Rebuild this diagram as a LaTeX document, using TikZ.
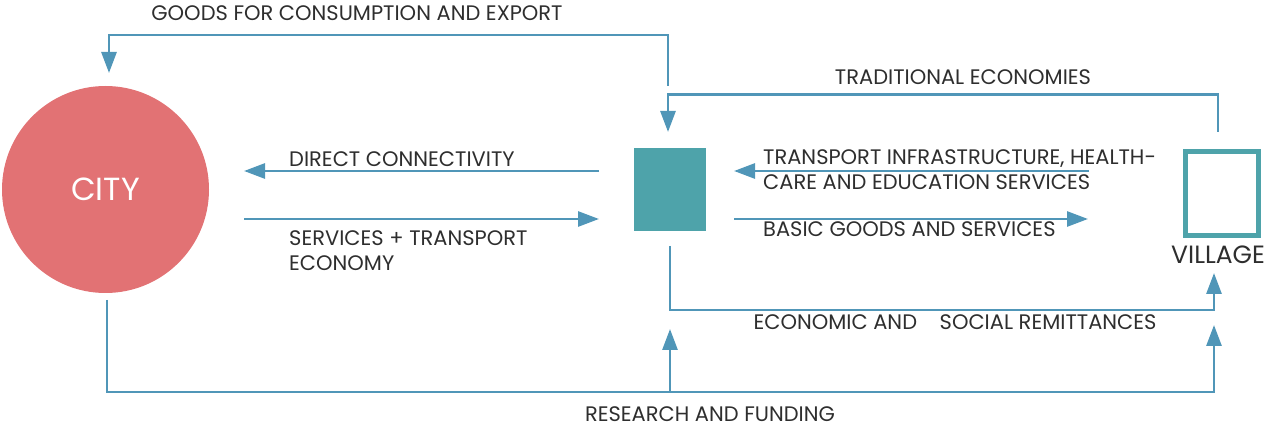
\documentclass[tikz,border=0pt]{standalone}
\usepackage{fontspec}
\setmainfont{Poppins}
\usetikzlibrary{arrows.meta}
\definecolor{lineblue}{HTML}{5096B8}
\definecolor{cityred}{HTML}{E27274}
\definecolor{hubteal}{HTML}{4EA3AA}
\definecolor{txt}{HTML}{2E2E2E}
\begin{document}
\begin{tikzpicture}[x=1pt,y=-1pt,
  conn/.style={draw=lineblue,line width=2.8pt},
  flow/.style={conn,-{Triangle[length=21pt,width=15pt]}},
  lbl/.style={font=\fontsize{21}{25.5}\selectfont,text=txt,inner sep=0pt,align=left}]
\useasboundingbox (0,0) rectangle (1272,427);

% main nodes
\node[circle,fill=cityred,minimum size=207pt,inner sep=0pt,text=white,
      font=\fontsize{32}{34}\selectfont] (city) at (105.5,189.5) {CITY};
\node[fill=hubteal,minimum width=72pt,minimum height=83pt,inner sep=0pt] (hub) at (670,189.5) {};
\node[draw=hubteal,line width=5pt,minimum width=73pt,minimum height=84pt,inner sep=0pt] (village) at (1222,193.5) {};
\node[font=\fontsize{25}{28}\selectfont,text=txt,inner sep=0pt,anchor=base west] (vlabel) at (1171,264) {VILLAGE};

% named coordinates
\coordinate (g0) at (668,86);
\coordinate (g1) at (109,73);
\coordinate (gt) at (0,35);
\coordinate (t0) at (1218,132);
\coordinate (t1) at (668,132);
\coordinate (tt) at (0,94.5);
\coordinate (d0) at (599,171);
\coordinate (d1) at (244,171);
\coordinate (s0) at (244,219);
\coordinate (s1) at (599,219);
\coordinate (i0) at (1089,171);
\coordinate (i1) at (734,171);
\coordinate (b0) at (734,219);
\coordinate (b1) at (1088,219);
\coordinate (e0) at (670,246);
\coordinate (e1) at (1214,273);
\coordinate (eb) at (0,310);
\coordinate (r0) at (107,300);
\coordinate (r1) at (1214,325);
\coordinate (r2) at (670,329);
\coordinate (rb) at (0,392);

% connectors
\draw[flow] (g0) -- (g0 |- gt) -| (g1);
\draw[flow] (t0) -- (t0 |- tt) -| (t1);
\draw[flow] (d0) -- (d1);
\draw[flow] (s0) -- (s1);
\draw[flow] (i0) -- (i1);
\draw[flow] (b0) -- (b1);
\draw[flow] (e0) -- (e0 |- eb) -| (e1);
\draw[flow] (r0) -- (r0 |- rb) -| (r1);
\draw[flow] (r2 |- rb) -- (r2);

% labels
\node[lbl,anchor=base] (lg) at (357,21) {GOODS FOR CONSUMPTION AND EXPORT};
\node[lbl,anchor=base] (lt) at (963,85) {TRADITIONAL ECONOMIES};
\node[lbl,anchor=base west] (ld) at (289,167) {DIRECT CONNECTIVITY};
\node[lbl,anchor=base west] (ls) at (289,271) {SERVICES + TRANSPORT\\ECONOMY};
\node[lbl,anchor=base west] (li) at (763,190) {TRANSPORT INFRASTRUCTURE, HEALTH-\\CARE AND EDUCATION SERVICES};
\node[lbl,anchor=base west] (lb) at (763,237) {BASIC GOODS AND SERVICES};
\node[lbl,anchor=base] (le) at (955,330) {ECONOMIC AND\hspace{17pt} SOCIAL REMITTANCES};
\node[lbl,anchor=base] (lr) at (710,421) {RESEARCH AND FUNDING};
\end{tikzpicture}
\end{document}
